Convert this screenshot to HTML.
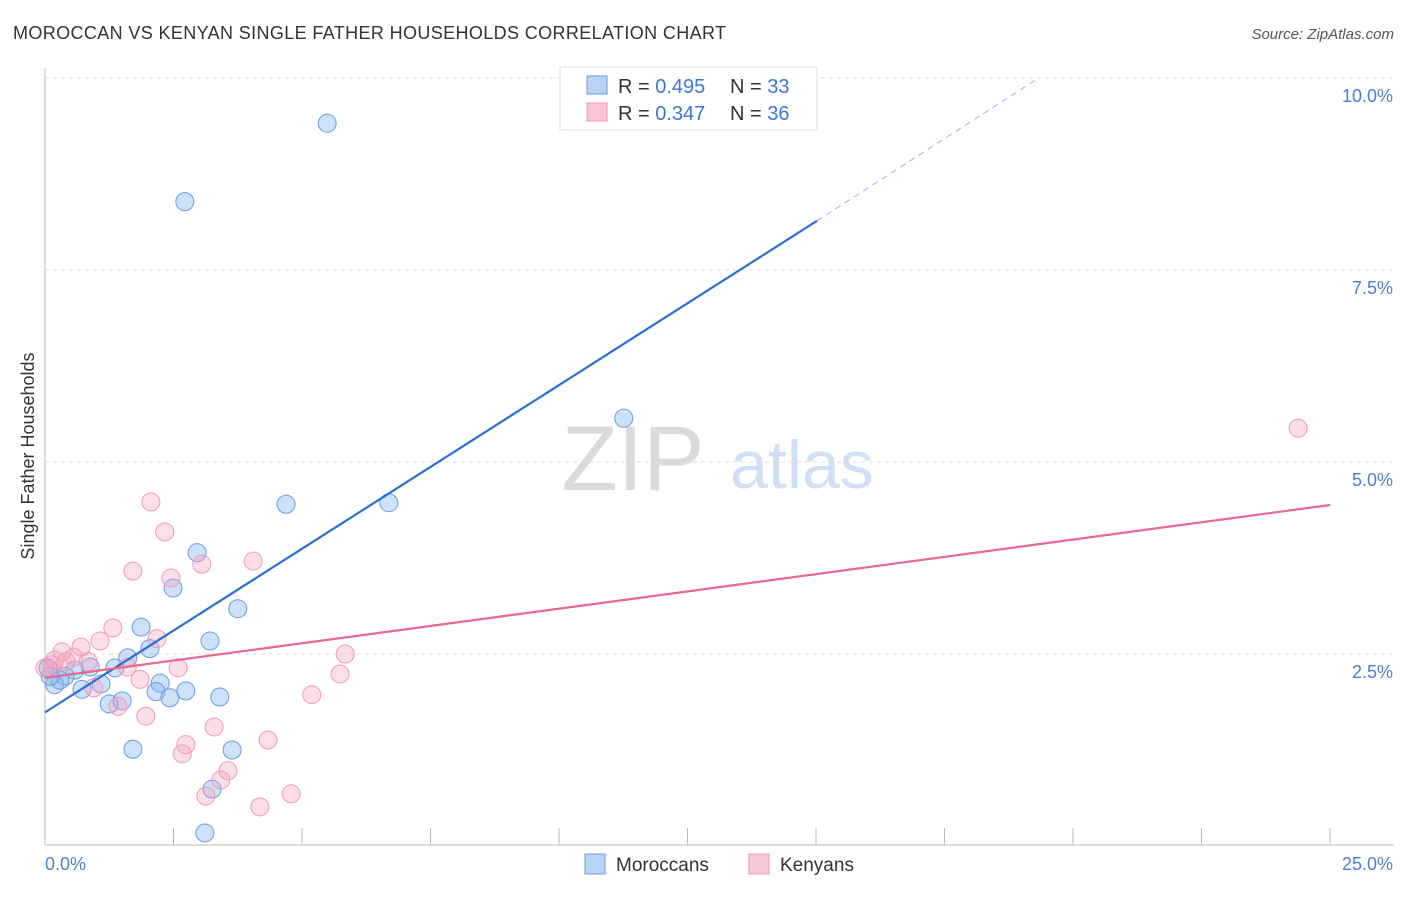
<!DOCTYPE html>
<html><head><meta charset="utf-8">
<style>
body{margin:0;background:#fff;font-family:"Liberation Sans",sans-serif}
svg text{font-family:"Liberation Sans",sans-serif}
</style></head>
<body>
<svg id="chart" width="1406" height="892" viewBox="0 0 1406 892" xmlns="http://www.w3.org/2000/svg">
<text x="13" y="39" font-size="18" fill="#333" textLength="713">MOROCCAN VS KENYAN SINGLE FATHER HOUSEHOLDS CORRELATION CHART</text>
<text x="1394" y="39" font-size="15" fill="#555" text-anchor="end" font-style="italic">Source: ZipAtlas.com</text>
<g>
<text x="633" y="490" font-size="92" fill="#dadada" text-anchor="middle" font-family="Liberation Serif, serif">ZIP</text>
<text x="802" y="488" font-size="68" fill="#cfdff4" text-anchor="middle">atlas</text>
</g>
<g id="grid"></g>
<g id="axes"></g>
<g id="points"></g>
<g id="lines"></g>
<text transform="translate(34,456) rotate(-90)" font-size="18" fill="#333" text-anchor="middle">Single Father Households</text>
<g>
<rect x="560" y="67" width="257" height="63" fill="#fff" stroke="#ddd"/>
<rect x="587" y="76" width="20" height="18" fill="#b8d3f5" stroke="#6c9be0"/>
<rect x="587" y="103" width="20" height="18" fill="#f9c6d6" stroke="#e995b2"/>
<text x="618" y="93" font-size="20" fill="#333">R = <tspan fill="#3a78d4">0.495</tspan></text>
<text x="730" y="93" font-size="20" fill="#333">N = <tspan fill="#3a78d4">33</tspan></text>
<text x="618" y="120" font-size="20" fill="#333">R = <tspan fill="#3a78d4">0.347</tspan></text>
<text x="730" y="120" font-size="20" fill="#333">N = <tspan fill="#3a78d4">36</tspan></text>
</g>
<g>
<rect x="585" y="854" width="20" height="20" fill="#b8d3f5" stroke="#6c9be0"/>
<text x="616" y="871" font-size="19" fill="#333">Moroccans</text>
<rect x="749" y="854" width="20" height="20" fill="#f9c6d6" stroke="#e995b2"/>
<text x="780" y="871" font-size="19" fill="#333">Kenyans</text>
</g>
</svg>
<script>
const blueX=[5.49,2.72,11.26,4.69,6.69,2.96,2.49,3.75,1.87,3.21,2.04,1.61,1.36,0.88,0.58,0.39,0.19,0.06,1.09,0.72,2.24,2.16,2.74,2.43,3.40,1.25,1.50,1.71,3.64,3.25,3.11,0.29,0.10];
const blueY=[9.41,8.39,5.57,4.45,4.47,3.82,3.36,3.09,2.85,2.67,2.57,2.45,2.32,2.33,2.29,2.21,2.10,2.32,2.11,2.04,2.12,2.01,2.02,1.93,1.94,1.85,1.89,1.26,1.25,0.74,0.17,2.16,2.21];
const pinkX=[2.06,2.33,1.71,4.05,3.05,2.45,1.32,1.07,2.18,0.70,0.33,0.56,0.84,0.14,1.60,2.59,5.84,5.74,1.85,0.95,1.42,1.96,5.19,3.29,4.34,2.74,2.67,3.56,3.42,3.13,4.18,4.79,24.38,0.19,0.00,0.41];
const pinkY=[4.48,4.09,3.58,3.71,3.67,3.49,2.84,2.67,2.70,2.59,2.53,2.46,2.40,2.36,2.33,2.32,2.50,2.24,2.17,2.06,1.82,1.69,1.97,1.55,1.38,1.32,1.20,0.98,0.86,0.65,0.51,0.68,5.44,2.42,2.32,2.40];
const yTicks=[2.5,5.0,7.5,10.0];
const yTickLabels=["2.5%","5.0%","7.5%","10.0%"];
const xTicks=[0,2.5,5,7.5,10,12.5,15,17.5,20,22.5,25];
const blueLine=[[0,1.74],[15.02,8.14]];
const blueDash=[[15.02,8.14],[19.26,9.97]];
const pinkLine=[[0,2.19],[25,4.44]];
const NS="http://www.w3.org/2000/svg";
const X=v=>45+v/25*1285;
const Y=v=>846-v*76.8;
function mk(tag,attrs,parent){const e=document.createElementNS(NS,tag);for(const k in attrs)e.setAttribute(k,attrs[k]);parent.appendChild(e);return e;}
const grid=document.getElementById('grid'),axes=document.getElementById('axes'),pts=document.getElementById('points'),lines=document.getElementById('lines');
yTicks.forEach((t,i)=>{
 const l=mk('line',{x1:45,x2:1394,y1:Y(t),y2:Y(t),stroke:'#ddd','stroke-dasharray':'4,4'},grid);
 
 
 const tx=mk('text',{x:1393,y:Y(t)+24,'font-size':18,fill:'#4a7fd4','text-anchor':'end'},axes);
 tx.textContent=yTickLabels[i];
 
 
});
const ax=mk('line',{x1:45,x2:45,y1:68,y2:845,stroke:'#bbb'},axes);


const bx=mk('line',{x1:45,x2:1394,y1:845,y2:845,stroke:'#bbb'},axes);


xTicks.forEach(t=>{
 const l=mk('line',{x1:X(t),x2:X(t),y1:828,y2:845,stroke:'#bbb'},axes);
 
 
});
const x0=mk('text',{x:45,y:870,'font-size':18,fill:'#4a7fd4'},axes);x0.textContent='0.0%';


const x1=mk('text',{x:1393,y:870,'font-size':18,fill:'#4a7fd4','text-anchor':'end'},axes);x1.textContent='25.0%';


blueX.forEach((v,i)=>{
 const c=mk('circle',{cx:X(v),cy:Y(blueY[i]),r:9,fill:'rgba(130,180,240,0.4)',stroke:'#6c9be0','stroke-width':1},pts);
 
 
});
pinkX.forEach((v,i)=>{
 const c=mk('circle',{cx:X(v),cy:Y(pinkY[i]),r:9,fill:'rgba(245,160,190,0.35)',stroke:'#eb9bb6','stroke-width':1},pts);
 
 
});
const bl=mk('line',{x1:X(blueLine[0][0]),y1:Y(blueLine[0][1]),x2:X(blueLine[1][0]),y2:Y(blueLine[1][1]),stroke:'#2a6fd6','stroke-width':2.2},lines);


const bd=mk('line',{x1:X(blueDash[0][0]),y1:Y(blueDash[0][1]),x2:X(blueDash[1][0]),y2:Y(blueDash[1][1]),stroke:'#8fb3ea','stroke-width':1,'stroke-dasharray':'6,5'},lines);


const pl=mk('line',{x1:X(pinkLine[0][0]),y1:Y(pinkLine[0][1]),x2:X(pinkLine[1][0]),y2:Y(pinkLine[1][1]),stroke:'#e8668f','stroke-width':2.2},lines);


</script>
</body></html>
